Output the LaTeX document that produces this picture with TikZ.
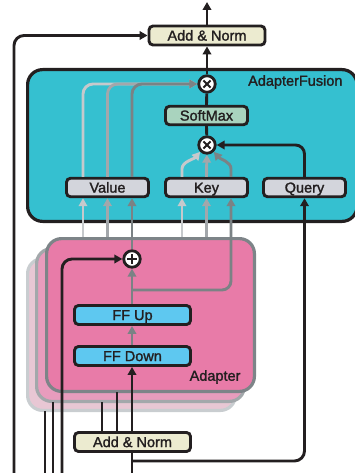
\documentclass[tikz,border=0pt]{standalone}
\usepackage{fontspec}
\setmainfont{Liberation Sans}
\newfontfamily\medfont[FakeBold=1.6]{Liberation Sans}
\usetikzlibrary{arrows.meta}
\definecolor{ink}{HTML}{231F20}
\definecolor{addc}{HTML}{ECEBD0}
\definecolor{cyanf}{HTML}{35C0D0}
\definecolor{qkv}{HTML}{D3D5DC}
\definecolor{softc}{HTML}{A9D3BE}
\definecolor{ffc}{HTML}{5EC8F0}
\definecolor{pinkA}{HTML}{E87BA8}
\definecolor{pinkB}{HTML}{E89CBD}
\definecolor{pinkC}{HTML}{E8C7D4}
\definecolor{bordA}{HTML}{7D8488}
\definecolor{bordB}{HTML}{A3A8AB}
\definecolor{bordC}{HTML}{C9CDD0}
\definecolor{lg}{HTML}{C6C9CC}
\definecolor{mg}{HTML}{A3A7AB}
\definecolor{dg}{HTML}{7B8285}
\begin{document}
\begin{tikzpicture}[x=1pt,y=-1pt,
  txt/.style={font=\medfont\fontsize{14.5}{17}\selectfont, text=ink},
  box/.style={draw=ink, line width=2.9pt, rounded corners=4pt, inner sep=0pt,
    txt, text height=10.2pt, text depth=0pt},
  wide/.style={box, minimum width=116pt, minimum height=19pt},
  narrow/.style={box, minimum width=82pt, minimum height=18.5pt},
  op/.style={circle, draw=ink, fill=white, line width=2.8pt, minimum size=16.5pt, inner sep=0pt},
  timesop/.style={op, path picture={
    \draw[ink, line width=2pt] ([shift={(-3.6pt,-3.6pt)}]path picture bounding box.center) -- ([shift={(3.6pt,3.6pt)}]path picture bounding box.center);
    \draw[ink, line width=2pt] ([shift={(-3.6pt,3.6pt)}]path picture bounding box.center) -- ([shift={(3.6pt,-3.6pt)}]path picture bounding box.center);}},
  plusop/.style={op, path picture={
    \draw[ink, line width=2pt] ([shift={(-4.6pt,0pt)}]path picture bounding box.center) -- ([shift={(4.6pt,0pt)}]path picture bounding box.center);
    \draw[ink, line width=2pt] ([shift={(0pt,-4.6pt)}]path picture bounding box.center) -- ([shift={(0pt,4.6pt)}]path picture bounding box.center);}},
  conn/.style={line width=2.9pt},
  tip/.style={-{Triangle[length=8pt,width=8.5pt]}},
  blk/.style={conn, draw=ink},
  adapt/.style={line width=3.2pt, rounded corners=15pt}
]
\useasboundingbox (0,0) rectangle (355,473);

% AdapterFusion box
\draw[adapt, draw=ink, fill=cyanf] (27.6,69.6) rectangle (357,221.4);
\node[txt, anchor=east] (fuslabel) at (346,82) {AdapterFusion};

% Adapter stack
\draw[adapt, draw=bordC, fill=pinkC] (27.6,258.6) rectangle (235.4,410.4);
\draw[adapt, draw=bordB, fill=pinkB] (36.6,248.6) rectangle (244.4,401.4);
\node[adapt, draw=bordA, fill=pinkA, minimum width=207.8pt, minimum height=152.8pt, inner sep=0pt] (adf) at (150.5,315) {};
\node[txt, anchor=east] (adlabel) at (244,377) {Adapter};

% Nodes
\node[wide, fill=addc] (topadd) at (207,35.5) {Add \& Norm};
\node[timesop] (mult1) at (207,84) {};
\node[narrow, fill=softc] (soft) at (206.5,115.5) {SoftMax};
\node[timesop] (mult2) at (207,145) {};
\node[narrow, fill=qkv] (value) at (107.5,187.5) {Value};
\node[narrow, fill=qkv] (key) at (206.5,187.5) {Key};
\node[narrow, fill=qkv] (query) at (304.5,187.5) {Query};
\node[plusop] (plus) at (132,259) {};
\node[wide, fill=ffc] (ffup) at (132.5,315) {FF Up};
\node[wide, fill=ffc] (ffdown) at (132.5,356) {FF Down};
\node[wide, fill=addc] (botadd) at (132.5,442) {Add \& Norm};

% free ends
\coordinate (topout) at (207,2);
\coordinate (resA) at (14,473);
\coordinate (resB) at (45,473);
\coordinate (resC) at (53,473);
\coordinate (resD) at (62,473);
\coordinate (inB) at (102,431);
\coordinate (inC) at (117,431);
\coordinate (endB) at (45,411);
\coordinate (endC) at (53,402);
\coordinate (endBi) at (102,402);
\coordinate (endCi) at (117,392);
\coordinate (botout) at (132,473);
\coordinate (qsplit) at (132,461);
\coordinate (br) at (132,290);

% top part
\draw[blk, tip] (topadd.north) -- (topout);
\draw[blk, tip, rounded corners=10pt] (resA) |- (topadd.west);
\draw[blk, tip] (mult1) -- (topadd.south);
\draw[blk] (soft.north) -- (mult1);
\draw[blk] (mult2) -- (soft.south);
\draw[blk, tip, rounded corners=9pt] (query.north) |- (mult2);

% value to mult1
\draw[conn, lg, tip, rounded corners=10pt] ([xshift=-24.5pt]value.north) |- (mult1);
\draw[conn, mg, tip, rounded corners=10pt] (value.north) |- (mult1);
\draw[conn, dg, tip, rounded corners=10pt] ([xshift=24.5pt]value.north) |- (mult1);

% key to mult2
\draw[conn, lg, tip] ([xshift=-24.5pt]key.north) -- ++(0,-8) .. controls +(0,-7) and (194,159) .. (mult2.225);
\draw[conn, dg, tip] ([xshift=24.5pt]key.north) -- ++(0,-8) .. controls +(0,-7) and (220,159) .. (mult2.-45);
\draw[conn, mg, tip] (key.north) -- (mult2);

% adapters to value/key
\draw[conn, lg, tip] ([xshift=-24.5pt]value.south |- adf.north) -- ([xshift=-24.5pt]value.south);
\draw[conn, mg, tip] (value.south |- adf.north) -- (value.south);
\draw[conn, dg, tip] (plus) -- ([xshift=24.5pt]value.south);
\draw[conn, lg, tip] ([xshift=-24.5pt]key.south |- adf.north) -- ([xshift=-24.5pt]key.south);
\draw[conn, mg, tip] (key.south |- adf.north) -- (key.south);
\draw[conn, dg, tip, rounded corners=9pt] (br) -| ([xshift=24.5pt]key.south);

% inside adapter
\draw[conn, dg, tip] (ffup.north -| plus) -- (plus);
\draw[conn, dg, tip] (ffdown.north -| plus) -- (ffup.south -| plus);
\draw[blk, tip] (botadd.north -| plus) -- (ffdown.south -| plus);
\draw[blk, tip, rounded corners=10pt] (resD) |- (plus);

% bottom lines
\draw[blk] (resB) -- (endB);
\draw[blk] (resC) -- (endC);
\draw[blk] (inB) -- (endBi);
\draw[blk] (inC) -- (endCi);
\draw[blk] (botadd.south -| botout) -- (botout);
\draw[blk, tip, rounded corners=10pt] (qsplit) -| (query.south);
\end{tikzpicture}
\end{document}
